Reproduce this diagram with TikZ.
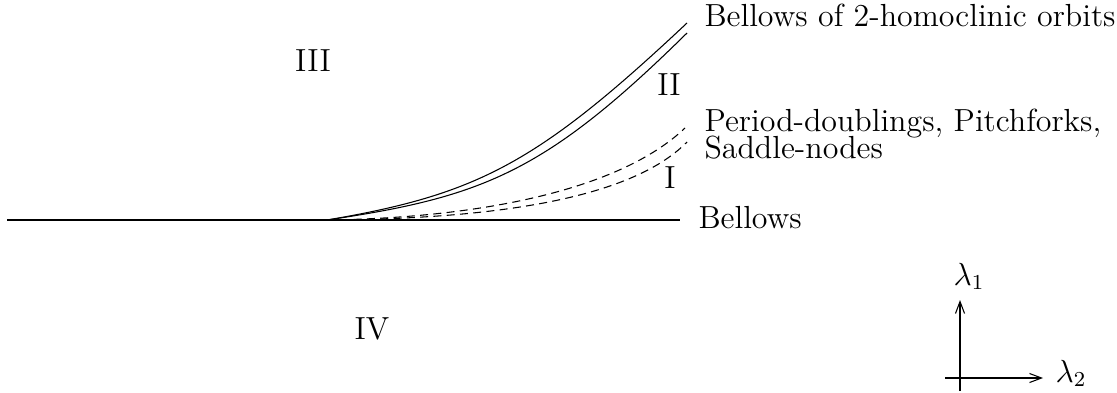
\documentclass[tikz,border=0pt]{standalone}
\usepackage{tikz}
\usetikzlibrary{arrows.meta, positioning}
\tikzset{
  region/.style={font=\large, anchor=base, inner sep=0pt},
  curvelabel/.style={font=\large, anchor=base west, inner sep=0pt},
  bellowline/.style={line width=0.4pt, color=black},
  bifline/.style={line width=0.4pt, color=black, dash pattern=on 3pt off 2pt},
  axis/.style={-{Straight Barb[length=4.5pt, width=3.4pt]}, line width=0.4pt}
}

\begin{document}
\begin{tikzpicture}[x=0.0132cm, y=-0.0132cm]
  \useasboundingbox (0,0) rectangle (1117,392);

  % Bellows (horizontal line)
  \coordinate (bleft) at (7,220);
  \coordinate (cusp) at (327,220);
  \coordinate (bright) at (680,220);
  \draw[bellowline] (bleft) -- (bright);
  \node[curvelabel] (bellows) at (698,228) {Bellows};

  % Bellows of 2-homoclinic orbits
  \coordinate (homup) at (687,23);
  \coordinate (homlow) at (687,33);
  \draw[bellowline] (cusp) .. controls (477,194.5) and (537,164) .. (homup);
  \draw[bellowline] (cusp) .. controls (482,197) and (545,173) .. (homlow);
  \node[curvelabel] (homlabel) at (704,26) {Bellows of 2-homoclinic orbits};

  % Period-doublings, pitchforks, saddle-nodes
  \coordinate (pdup) at (685,128);
  \coordinate (pdlow) at (687,142);
  \draw[bifline] (cusp) .. controls (480,218) and (620,190) .. (pdup);
  \draw[bifline] (cusp) .. controls (490,219) and (630,200) .. (pdlow);
  \node[curvelabel] (pdlabel) at (704,131) {Period-doublings, Pitchforks,};
  \node[curvelabel] (snlabel) at (704,158) {Saddle-nodes};

  % Regions
  \node[region] (rthree) at (313,71) {III};
  \node[region] (rtwo) at (669,95) {II};
  \node[region] (rone) at (670,188) {I};
  \node[region] (rfour) at (372,339) {IV};

  % Parameter axes
  \coordinate (vfoot) at (960,391);
  \coordinate (vtip) at (960,300);
  \coordinate (hfoot) at (945,378);
  \coordinate (htip) at (1043,378);
  \draw[axis] (vfoot) -- (vtip);
  \draw[axis] (hfoot) -- (htip);
  \node[curvelabel] (lamone) at (953,285) {$\lambda_1$};
  \node[curvelabel] (lamtwo) at (1055,382) {$\lambda_2$};
\end{tikzpicture}
\end{document}
